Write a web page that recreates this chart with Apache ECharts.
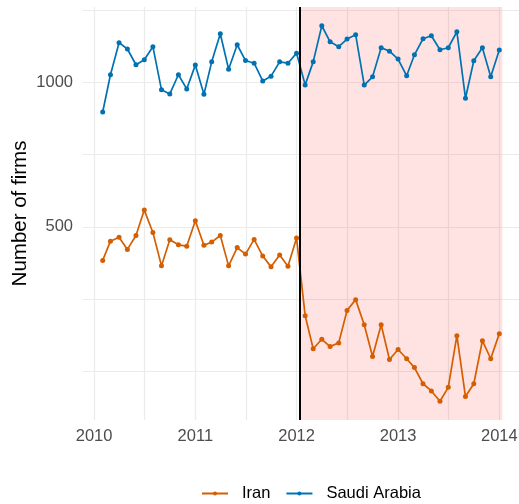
<!DOCTYPE html>
<html>
<head>
<meta charset="utf-8">
<script src="https://cdn.jsdelivr.net/npm/echarts@6/dist/echarts.min.js"></script>
<style>
html,body{margin:0;padding:0;background:#fff;}
#chart{width:519px;height:504px;}
</style>
</head>
<body>
<div id="chart"></div>
<script>
const dates = [
 '2010-02-01','2010-03-01','2010-04-01','2010-05-01','2010-06-01','2010-07-01','2010-08-01','2010-09-01','2010-10-01','2010-11-01','2010-12-01',
 '2011-01-01','2011-02-01','2011-03-01','2011-04-01','2011-05-01','2011-06-01','2011-07-01','2011-08-01','2011-09-01','2011-10-01','2011-11-01','2011-12-01',
 '2012-01-01','2012-02-01','2012-03-01','2012-04-01','2012-05-01','2012-06-01','2012-07-01','2012-08-01','2012-09-01','2012-10-01','2012-11-01','2012-12-01',
 '2013-01-01','2013-02-01','2013-03-01','2013-04-01','2013-05-01','2013-06-01','2013-07-01','2013-08-01','2013-09-01','2013-10-01','2013-11-01','2013-12-01',
 '2014-01-01'
];
const iran = [426,467,476,449,480,542,487,415,470,459,456,515,458,465,480,415,453,439,471,435,413,437,414,474,
              327,279,292,282,287,335,353,313,269,313,265,278,266,255,236,228,217,232,297,222,236,290,266,300];
const saudi = [867,1036,1208,1172,1087,1113,1185,964,945,1036,968,1085,944,1102,1261,1064,1196,1109,1095,1006,1029,1102,1095,1149,
               987,1102,1310,1213,1185,1229,1255,986,1026,1179,1160,1117,1031,1140,1231,1249,1168,1179,1273,926,1108,1179,1026,1166];
const yTickLabels = [500, 1000];
const yGridValues = [250, 353.6, 500, 707.1, 1000, 1414.2];
const xTickLabels = ['2010-01-01','2011-01-01','2012-01-01','2013-01-01','2014-01-01'];
const xGridValues = ['2010-01-01','2010-07-02','2011-01-01','2011-07-02','2012-01-01','2012-07-02','2013-01-01','2013-07-02','2014-01-01'];
const seriesNames = ['Iran', 'Saudi Arabia'];
const eventDate = '2012-01-12';
const shadeEnd = '2014-01-12';
const xMin = '2009-11-22';
const xMax = '2014-03-13';

const t = s => Date.parse(s);
const font = 'Liberation Sans, Arial, sans-serif';
const chart = echarts.init(document.getElementById('chart'));
chart.setOption({
  animation: false,
  backgroundColor: '#fff',
  grid: {left: 83, right: 0, top: 7, bottom: 84, containLabel: false, outerBoundsMode: 'none'},
  xAxis: {
    type: 'value',
    min: t(xMin),
    max: t(xMax),
    axisLine: {show: false},
    axisTick: {show: false, customValues: xGridValues.map(t)},
    axisLabel: {
      customValues: xTickLabels.map(t),
      formatter: v => String(new Date(v).getUTCFullYear()),
      color: '#4D4D4D', fontSize: 16.5, fontFamily: font, margin: 8
    },
    splitLine: {show: true, lineStyle: {color: '#EBEBEB', width: 1.2}}
  },
  yAxis: {
    type: 'log',
    min: 198.4,
    max: 1433,
    name: 'Number of firms',
    nameLocation: 'middle',
    nameGap: 52,
    nameMoveOverlap: false,
    nameTextStyle: {fontSize: 20.5, color: '#000', fontFamily: font},
    axisLine: {show: false},
    axisTick: {show: false, customValues: yGridValues},
    axisLabel: {
      customValues: yTickLabels,
      formatter: v => String(Math.round(v)),
      color: '#4D4D4D', fontSize: 16.5, fontFamily: font, margin: 10
    },
    splitLine: {show: true, lineStyle: {color: '#EBEBEB', width: 1.2}}
  },
  legend: {
    data: seriesNames,
    left: 201,
    top: 485,
    padding: 0,
    itemWidth: 26,
    itemHeight: 5,
    itemGap: 15,
    textStyle: {fontSize: 16.5, color: '#000', fontFamily: font, padding: [0, 0, 0, 9]}
  },
  series: [
    {
      name: seriesNames[0],
      type: 'line',
      data: dates.map((d, i) => [t(d), iran[i]]),
      color: '#D55E00',
      symbol: 'circle',
      symbolSize: 5,
      lineStyle: {width: 1.7},
      z: 3,
      markArea: {
        silent: true,
        itemStyle: {color: 'rgba(255,0,0,0.11)'},
        data: [[{xAxis: t(eventDate)}, {xAxis: t(shadeEnd)}]]
      },
      markLine: {
        silent: true,
        symbol: ['none', 'none'],
        label: {show: false},
        lineStyle: {color: '#000', width: 2, type: 'solid'},
        data: [{xAxis: t(eventDate)}]
      }
    },
    {
      name: seriesNames[1],
      type: 'line',
      data: dates.map((d, i) => [t(d), saudi[i]]),
      color: '#0072B2',
      symbol: 'circle',
      symbolSize: 5,
      lineStyle: {width: 1.7},
      z: 3
    }
  ]
});
</script>
</body>
</html>
